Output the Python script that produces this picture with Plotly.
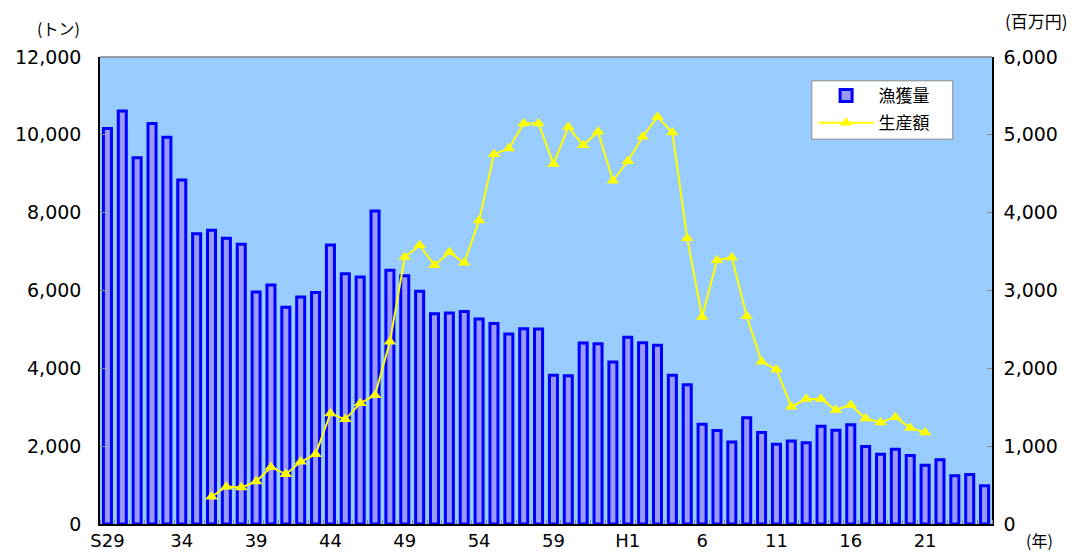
import plotly.graph_objects as go

# Fiscal years (Showa S29-S63, Heisei H1-H25)
years = ["S29", "S30", "S31", "S32", "S33", "S34", "S35", "S36", "S37", "S38",
         "S39", "S40", "S41", "S42", "S43", "S44", "S45", "S46", "S47", "S48",
         "S49", "S50", "S51", "S52", "S53", "S54", "S55", "S56", "S57", "S58",
         "S59", "S60", "S61", "S62", "S63", "H1", "H2", "H3", "H4", "H5",
         "H6", "H7", "H8", "H9", "H10", "H11", "H12", "H13", "H14", "H15",
         "H16", "H17", "H18", "H19", "H20", "H21", "H22", "H23", "H24", "H25"]

# 漁獲量 (tons)
catch_t = [10160, 10610, 9410, 10290, 9940, 8840, 7460, 7550, 7340, 7190,
           5960, 6140, 5570, 5830, 5950, 7170, 6430, 6350, 8040, 6520,
           6380, 5980, 5400, 5420, 5460, 5270, 5150, 4880, 5020, 5010,
           3820, 3810, 4650, 4630, 4160, 4800, 4660, 4590, 3820, 3580,
           2560, 2400, 2110, 2730, 2350, 2050, 2130, 2090, 2510, 2410,
           2550, 1990, 1790, 1920, 1760, 1510, 1650, 1240, 1270, 980]

# 生産額 (million yen)
value_m = [None, None, None, None, None, None, None, 350, 480, 470,
           545, 730, 640, 800, 895, 1420, 1345, 1550, 1655, 2340,
           3430, 3580, 3325, 3490, 3355, 3900, 4750, 4825, 5145, 5145,
           4625, 5100, 4865, 5040, 4410, 4660, 4975, 5230, 5030, 3670,
           2660, 3390, 3425, 2670, 2085, 1985, 1505, 1605, 1605, 1465,
           1530, 1355, 1305, 1370, 1235, 1175, None, None, None, None]

tick_years = ["S29", "S34", "S39", "S44", "S49", "S54", "S59", "H1", "H6", "H11", "H16", "H21"]
tick_labels = ["S29", "34", "39", "44", "49", "54", "59", "H1", "6", "11", "16", "21"]

x = list(range(len(years)))
tickvals = [years.index(y) for y in tick_years]

NUM_FONT = "DejaVu Sans, Noto Sans CJK JP, sans-serif"
JP_FONT = "Noto Sans CJK JP, sans-serif"

fig = go.Figure()
fig.add_bar(
    x=x, y=catch_t, name="漁獲量", width=0.54, legendgroup="a",
    marker=dict(color="#9999FF", line=dict(color="#0000FF", width=3)),
    hovertext=years,
)
fig.add_scatter(
    x=x, y=value_m, name="生産額", yaxis="y2", legendgroup="b",
    mode="lines+markers", connectgaps=False,
    line=dict(color="#FFFF00", width=2),
    marker=dict(symbol="triangle-up", size=11, color="#FFFF00"),
    hovertext=years,
)

# page body has an 8px margin, so the figure is sized/offset to compensate
fig.update_layout(
    width=1076, height=544,
    margin=dict(l=92, r=92, t=49, b=28, autoexpand=False),
    paper_bgcolor="white", plot_bgcolor="#99CCFF",
    font=dict(family=NUM_FONT, size=19, color="#000000"),
    showlegend=True,
    legend=dict(
        x=0.800, y=0.955, xanchor="left", yanchor="top",
        bgcolor="rgba(0,0,0,0)", borderwidth=0,
        font=dict(family=JP_FONT, size=17),
        itemwidth=55, tracegroupgap=2, traceorder="grouped",
    ),
    xaxis=dict(
        range=[-0.5, len(years) - 0.5], automargin=False,
        tickmode="array", tickvals=tickvals, ticktext=tick_labels,
        ticks="", showgrid=False, zeroline=False,
        showline=True, linecolor="black", linewidth=1.5,
        ticklabelstandoff=0, tickfont=dict(size=18),
        minor=dict(ticks="inside", tickmode="linear", tick0=0.5, dtick=1,
                   ticklen=4, tickcolor="#888888", showgrid=False),
    ),
    yaxis=dict(
        range=[0, 12000], dtick=2000, tickformat=",d", automargin=False,
        ticks="inside", ticklen=5, tickcolor="#888888",
        showgrid=False, zeroline=False,
        showline=True, linecolor="black", linewidth=1.5,
        ticklabelstandoff=13,
    ),
    yaxis2=dict(
        overlaying="y", side="right", automargin=False,
        range=[0, 6000], dtick=1000, tickformat=",d",
        ticks="inside", ticklen=5, tickcolor="#888888",
        showgrid=False, zeroline=False,
        showline=True, linecolor="black", linewidth=1.5,
        ticklabelstandoff=6,
    ),
    shapes=[
        dict(type="line", xref="paper", yref="paper", x0=0, x1=1, y0=1, y1=1,
             line=dict(color="#808080", width=1.5)),
        # legend frame
        dict(type="rect", xref="paper", yref="paper", layer="below",
             x0=0.798, x1=0.956, y0=0.824, y1=0.949,
             fillcolor="white", line=dict(color="#888888", width=1)),
    ],
    annotations=[
        dict(text="(トン)", xref="paper", yref="paper", x=-0.046, y=1.062,
             xanchor="center", yanchor="middle", showarrow=False,
             font=dict(family=JP_FONT, size=16)),
        dict(text="(百万円)", xref="paper", yref="paper", x=1.050, y=1.079,
             xanchor="center", yanchor="middle", showarrow=False,
             font=dict(family=JP_FONT, size=17)),
        dict(text="(年)", xref="paper", yref="paper", x=1.053, y=-0.034,
             xanchor="center", yanchor="middle", showarrow=False,
             font=dict(family=JP_FONT, size=16)),
    ],
)

fig.write_html("out.html")
